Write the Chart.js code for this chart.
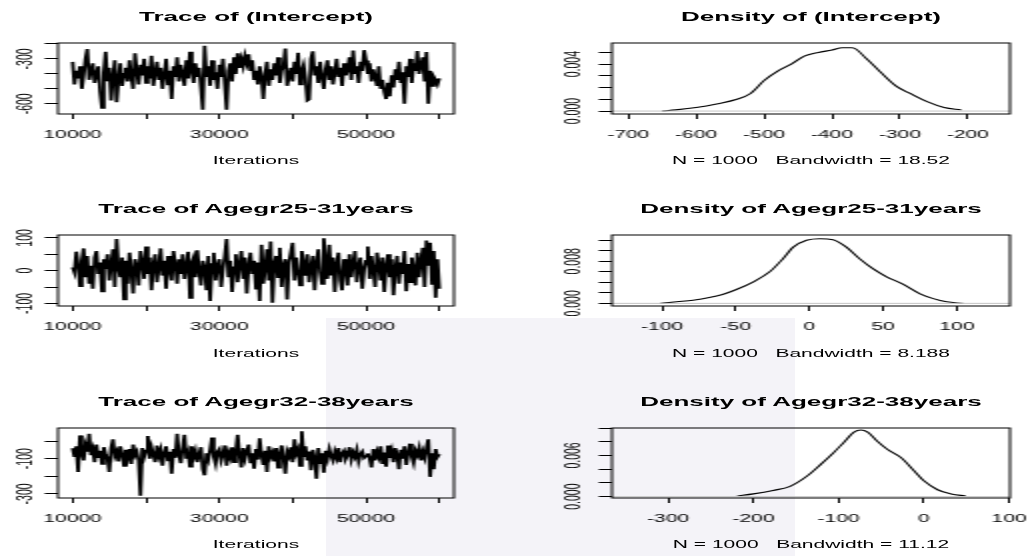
<!DOCTYPE html>
<html>
<head>
<meta charset="utf-8">
<script src="https://cdn.jsdelivr.net/npm/chart.js@4.4.1/dist/chart.umd.min.js"></script>
<style>
  html, body { margin: 0; padding: 0; background: #fff; }
  body { width: 1029px; height: 556px; overflow: hidden; position: relative; }
  #mark { position: absolute; left: 326px; top: 318px; width: 469px; height: 238px; background: #f4f3f8; }
  #fig { position: absolute; left: 0; top: 0; width: 515px; height: 556px;
         transform: scaleX(2); transform-origin: 0 0;
         font-family: "Liberation Sans", Arial, sans-serif; color: #000; }
  #fig canvas { position: absolute; }
  .ttl { position: absolute; text-align: center; font-weight: bold; font-size: 13px; line-height: 16px; white-space: pre; }
  .sub { position: absolute; text-align: center; font-size: 10.5px; line-height: 14px; white-space: pre; }
</style>
</head>
<body>
<div id="mark"></div>
<div id="fig"></div>
<script>
// iterations: 10000 .. 60000, one kept value every 250
const iterStart = 10000;
const iterStep = 250;

const traceIntercept = [
  -320, -470, -380, -430, -350, -500, -410, -300, -235, -440,
  -380, -330, -460, -400, -350, -520, -627, -390, -252, -450,
  -360, -578, -420, -310, -590, -440, -330, -480, -400, -360,
  -450, -310, -420, -500, -263, -380, -470, -340, -410, -300,
  -460, -350, -430, -280, -480, -390, -320, -440, -360, -500,
  -410, -300, -470, -380, -568, -350, -420, -290, -450, -340,
  -400, -480, -310, -430, -252, -380, -460, -330, -420, -360,
  -490, -640, -213, -420, -350, -480, -310, -440, -390, -500,
  -340, -420, -300, -470, -640, -380, -330, -450, -290, -400,
  -263, -360, -300, -350, -280, -330, -270, -380, -310, -440,
  -380, -470, -350, -420, -568, -400, -320, -480, -370, -440,
  -330, -410, -290, -460, -380, -350, -231, -480, -420, -360,
  -450, -320, -400, -260, -470, -380, -340, -430, -578, -570,
  -300, -250, -410, -350, -460, -320, -420, -500, -370, -310,
  -440, -350, -470, -390, -300, -420, -360, -480, -330, -410,
  -370, -290, -440, -245, -400, -350, -460, -320, -380, -242,
  -310, -400, -330, -450, -370, -420, -480, -350, -500, -440,
  -520, -568, -460, -550, -410, -490, -370, -440, -320, -460,
  -390, -600, -350, -420, -300, -460, -330, -380, -248, -400,
  -340, -290, -450, -255, -600, -380, -480, -420, -440, -470, -430
];

const trace2531 = [
  10, -5, 58, 20, -47, 30, 68, -20, 45, -40,
  15, -55, 40, 60, -10, 25, -63, 35, 5, 50,
  -30, 20, 65, -50, 97, 10, -20, 40, -88, 30,
  -40, 55, 0, -70, 35, 15, -45, 60, 25, -25,
  74, -10, 40, -60, 20, 50, -35, 10, 68, -15,
  30, -55, 45, 5, -30, 60, 20, -40, 35, -10,
  50, -25, 15, 58, -83, 25, 40, -20, 62, 0,
  -45, 30, 10, -60, 45, -93, 20, 55, -30, 15,
  35, -50, 5, 45, 97, -20, 30, -65, 10, 50,
  -35, 20, 60, -25, 40, -70, 15, 55, -10, 30,
  -55, 25, -93, 79, -40, 10, 65, -30, 89, -98,
  20, 45, -20, 70, -50, 15, 35, -88, 25, 55,
  85, -30, 40, 0, -45, 60, 20, -15, 50, -35,
  10, 45, -60, 25, 65, -5, -40, 99, 30, -25,
  79, -15, 40, -65, 20, 55, -30, -60, 35, 10,
  -45, 50, -20, 25, 60, -35, 15, 40, -55, 5,
  30, 74, -25, 45, 0, -50, 55, 20, -30, 40,
  -65, 15, 50, -20, 35, -75, 10, 45, -40, 25,
  -10, 60, -63, 20, -35, 40, 5, -45, 55, -20,
  30, 70, -50, 92, 15, 85, -40, 60, -83, 35, -55
];

const trace3238 = [
  -40, -90, -30, -175, 32, -70, -110, -25, -60, 41,
  -80, -45, -120, -20, -95, -55, -130, -35, -75, -100,
  -175, -40, 10, -85, -60, -115, -30, -70, -140, -50,
  -95, -45, -130, -20, -80, -60, -110, -310, -40, -90,
  -55, 28, -100, -35, -75, -120, -25, -85, -50, -140,
  -70, -30, -110, -60, -185, -45, -95, 41, -80, -125,
  -40, 35, -100, -65, -145, -30, -90, -55, -120, -75,
  -35, -160, -194, -70, -105, -50, 20, -90, -130, -60,
  -45, -110, -75, -25, -140, -65, -95, -35, -120, -55,
  36, -80, -150, -40, -100, -60, -20, -125, -70, -157,
  -45, -105, 15, -80, -135, -55, -175, -30, -90, -65,
  -115, -40, -150, -75, -25, -100, -185, -60, -85, -35,
  -120, 10, -70, -45, -140, 55, -90, -30, -110, -60,
  -165, -50, -95, -213, -40, -130, -70, -180, -55, -100,
  -45, -85, -110, -60, -95, -40, -120, -70, -55, -100,
  -80, -35, -105, -65, -90, -50, -115, -75, -60, -95,
  -85, -70, -100, -150, -45, -110, -60, -90, -30, -130,
  -65, -145, -25, -95, -55, -120, -40, -80, -160, -50,
  -100, -30, -135, -70, -15, -90, -125, -55, -80, -40,
  -110, -60, -95, -35, 10, -203, -70, -160, -45, -90, -75
];

const densInterceptX = [-650, -630, -600, -570, -540, -520, -500, -480, -460, -440, -420,
  -400, -385, -370, -350, -330, -305, -285, -260, -235, -210];
const densInterceptY = [0.0000, 0.0001, 0.0003, 0.0006, 0.0010, 0.0015, 0.0026, 0.0034, 0.0040, 0.0047, 0.0050,
  0.0052, 0.0054, 0.0054, 0.0045, 0.0034, 0.0021, 0.0015, 0.0008, 0.0003, 0.0001];

const dens2531X = [-101, -90, -79, -68, -59, -50, -38, -27, -18, -11, -2,
  7, 16, 25, 34, 43, 52, 63, 75, 84, 93, 104];
const dens2531Y = [0.0000, 0.0003, 0.0006, 0.0011, 0.0017, 0.0026, 0.0041, 0.0060, 0.0085, 0.0107, 0.0120,
  0.0123, 0.0121, 0.0107, 0.0085, 0.0066, 0.0051, 0.0037, 0.0018, 0.0009, 0.0003, 0.0000];

const dens3238X = [-219, -200, -177, -157, -137, -121, -106, -94, -82, -74,
  -66, -55, -43, -27, -11, 0, 16, 32, 49];
const dens3238Y = [0.0001, 0.0004, 0.0009, 0.0015, 0.0030, 0.0047, 0.0064, 0.0079, 0.0094, 0.0097,
  0.0094, 0.0081, 0.0069, 0.0057, 0.0037, 0.0023, 0.0010, 0.0004, 0.0001];

// tick positions and the labels R actually printed
const iterTicks = [10000, 20000, 30000, 40000, 50000, 60000];
const iterTickLabels = ['10000', '30000', '50000'];
const yTicksIntercept = [-600, -500, -400, -300, -200];
const yLabelsIntercept = ['-300', '-600'];
const yTicks2531 = [-100, -50, 0, 50, 100];
const yLabels2531 = ['100', '0', '-100'];
const yTicks3238 = [-300, -200, -100, 0];
const yLabels3238 = ['-100', '-300'];
const xTicksDensInt = [-700, -600, -500, -400, -300, -200];
const xTicksDens2531 = [-100, -50, 0, 50, 100];
const xTicksDens3238 = [-300, -200, -100, 0, 100];
const yTicksDensInt = [0, 0.001, 0.002, 0.003, 0.004, 0.005];
const yLabelsDensInt = ['0.000', '0.004'];
const yTicksDens2531 = [0, 0.002, 0.004, 0.006, 0.008, 0.010, 0.012];
const yLabelsDens2531 = ['0.000', '0.008'];
const yTicksDens3238 = [0, 0.002, 0.004, 0.006, 0.008, 0.010];
const yLabelsDens3238 = ['0.000', '0.006'];

/* ---------- layout (internal px, figure is stretched 2x horizontally) ---------- */
const colLeft = [29, 306];
const colWidth = [198, 199];
const rowTop = [43, 235, 428];
const rowHeight = [71, 71.5, 70];
const YW = 26, XH = 30, PT = 12, PR = 14;

Chart.defaults.font.family = '"Liberation Sans", Arial, sans-serif';
Chart.defaults.font.size = 10.5;
Chart.defaults.color = '#000';

const boxPlugin = {
  id: 'box',
  afterDraw(chart) {
    const a = chart.chartArea, ctx = chart.ctx;
    ctx.save();
    ctx.strokeStyle = '#000';
    ctx.lineWidth = 1;
    ctx.strokeRect(a.left, a.top, a.right - a.left, a.bottom - a.top);
    ctx.restore();
  }
};

const fig = document.getElementById('fig');

function addText(cls, text, left, width, top) {
  const d = document.createElement('div');
  d.className = cls;
  d.textContent = text;
  d.style.left = left + 'px';
  d.style.width = width + 'px';
  d.style.top = top + 'px';
  fig.appendChild(d);
}

function tracePoints(vals) {
  return vals.map((v, i) => ({ x: iterStart + i * iterStep, y: v }));
}

function densPoints(xs, ys) {
  return xs.map((x, i) => ({ x: x, y: ys[i] }));
}

function makePanel(p) {
  const bl = colLeft[p.col], bw = colWidth[p.col];
  const bt = rowTop[p.row], bh = rowHeight[p.row];

  addText('ttl', p.title, bl, bw, bt - 26 - 8);
  addText('sub', p.sub, bl, bw, bt + bh + 46 - 7);

  const cv = document.createElement('canvas');
  cv.width = YW + bw + PR;
  cv.height = PT + bh + XH;
  cv.style.left = (bl - YW) + 'px';
  cv.style.top = (bt - PT) + 'px';
  fig.appendChild(cv);

  const datasets = [];
  if (p.kind === 'density') {
    datasets.push({
      data: [{ x: p.xMin, y: 0 }, { x: p.xMax, y: 0 }],
      borderColor: '#c4c4c4', borderWidth: 1, pointRadius: 0
    });
    datasets.push({
      data: p.points, borderColor: '#000', borderWidth: 1.1, pointRadius: 0,
      cubicInterpolationMode: 'monotone'
    });
  } else {
    datasets.push({ data: p.points, borderColor: '#000', borderWidth: 1.8, pointRadius: 0, tension: 0 });
  }

  new Chart(cv, {
    type: 'line',
    data: { datasets: datasets },
    plugins: [boxPlugin],
    options: {
      responsive: false,
      animation: false,
      events: [],
      devicePixelRatio: 1,
      layout: { padding: { left: 0, top: PT, right: PR, bottom: 0 } },
      plugins: { legend: { display: false }, tooltip: { enabled: false } },
      scales: {
        x: {
          type: 'linear', min: p.xMin, max: p.xMax,
          grid: { display: true, drawOnChartArea: false, drawTicks: true, tickLength: 5, color: '#000', lineWidth: 1 },
          border: { display: false },
          afterBuildTicks: s => { s.ticks = p.xTicks.map(v => ({ value: v })); },
          ticks: {
            autoSkip: false, maxRotation: 0, minRotation: 0, padding: 9.5, color: '#000',
            callback: v => p.xLabels.includes(String(v)) ? String(v) : ''
          },
          afterFit: s => { s.height = XH; s.paddingLeft = 0; s.paddingRight = 0; }
        },
        y: {
          type: 'linear', min: p.yMin, max: p.yMax,
          grid: { display: true, drawOnChartArea: false, drawTicks: true, tickLength: 6.6, color: '#000', lineWidth: 1 },
          border: { display: false },
          afterBuildTicks: s => { s.ticks = p.yTicks.map(v => ({ value: v })); },
          ticks: {
            autoSkip: false, minRotation: 90, maxRotation: 90,
            crossAlign: 'center', padding: -1.1, color: '#000',
            callback: v => {
              const t = p.yFmt(v);
              return p.yLabels.includes(t) ? t : '';
            }
          },
          afterFit: s => { s.width = YW; s.paddingTop = 0; s.paddingBottom = 0; }
        }
      }
    }
  });
}

const intFmt = v => String(Math.round(v));
const decFmt = v => v.toFixed(3);

const panels = [
  { kind: 'trace', col: 0, row: 0, title: 'Trace of (Intercept)', sub: 'Iterations',
    points: tracePoints(traceIntercept), xMin: 8000, xMax: 62000, xTicks: iterTicks, xLabels: iterTickLabels,
    yMin: -668, yMax: -194, yTicks: yTicksIntercept, yLabels: yLabelsIntercept, yFmt: intFmt },
  { kind: 'density', col: 1, row: 0, title: 'Density of (Intercept)', sub: 'N = 1000   Bandwidth = 18.52',
    points: densPoints(densInterceptX, densInterceptY), xMin: -724, xMax: -138,
    xTicks: xTicksDensInt, xLabels: xTicksDensInt.map(String),
    yMin: -0.00025, yMax: 0.0058, yTicks: yTicksDensInt, yLabels: yLabelsDensInt, yFmt: decFmt },
  { kind: 'trace', col: 0, row: 1, title: 'Trace of Agegr25-31years', sub: 'Iterations',
    points: tracePoints(trace2531), xMin: 8000, xMax: 62000, xTicks: iterTicks, xLabels: iterTickLabels,
    yMin: -108, yMax: 109, yTicks: yTicks2531, yLabels: yLabels2531, yFmt: intFmt },
  { kind: 'density', col: 1, row: 1, title: 'Density of Agegr25-31years', sub: 'N = 1000   Bandwidth = 8.188',
    points: densPoints(dens2531X, dens2531Y), xMin: -134, xMax: 136,
    xTicks: xTicksDens2531, xLabels: xTicksDens2531.map(String),
    yMin: -0.0005, yMax: 0.013, yTicks: yTicksDens2531, yLabels: yLabelsDens2531, yFmt: decFmt },
  { kind: 'trace', col: 0, row: 2, title: 'Trace of Agegr32-38years', sub: 'Iterations',
    points: tracePoints(trace3238), xMin: 8000, xMax: 62000, xTicks: iterTicks, xLabels: iterTickLabels,
    yMin: -323, yMax: 74, yTicks: yTicks3238, yLabels: yLabels3238, yFmt: intFmt },
  { kind: 'density', col: 1, row: 2, title: 'Density of Agegr32-38years', sub: 'N = 1000   Bandwidth = 11.12',
    points: densPoints(dens3238X, dens3238Y), xMin: -366, xMax: 101,
    xTicks: xTicksDens3238, xLabels: xTicksDens3238.map(String),
    yMin: -0.0002, yMax: 0.0100, yTicks: yTicksDens3238, yLabels: yLabelsDens3238, yFmt: decFmt }
];

panels.forEach(makePanel);
</script>
</body>
</html>
